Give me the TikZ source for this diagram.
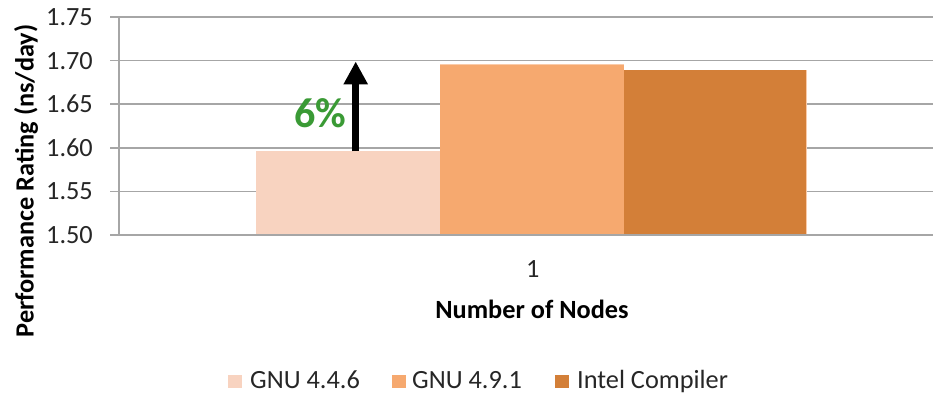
\documentclass[tikz,border=0pt]{standalone}
\usepackage{fontspec}
\setmainfont{Carlito}
\usetikzlibrary{arrows.meta}
\definecolor{gridgray}{HTML}{A6A6A6}
\definecolor{gnuold}{HTML}{F8D3C0}
\definecolor{gnunew}{HTML}{F6A96F}
\definecolor{intelc}{HTML}{D37F38}
\definecolor{gaingreen}{HTML}{3A9A35}
\definecolor{textgray}{HTML}{262626}
\tikzset{
  gridline/.style={draw=gridgray, line width=1.5pt},
  chartfont/.style={font=\fontsize{26.3}{28}\selectfont},
  ticklabel/.style={chartfont, text=textgray, anchor=east, inner sep=0pt},
  axistitle/.style={font=\fontsize{26.3}{28}\selectfont\bfseries, text=black, inner sep=0pt, anchor=base},
  legtext/.style={chartfont, text=textgray, anchor=base west, inner sep=0pt},
  legkey/.style={minimum width=14pt, minimum height=12.5pt, inner sep=0pt, anchor=west},
}
\begin{document}
\begin{tikzpicture}[x=1pt, y=-1pt]
\useasboundingbox (0,0) rectangle (933,395);
% horizontal grid lines and y ticks, 1.50 .. 1.75
\foreach \v [count=\i from 0] in {1.50,1.55,1.60,1.65,1.70,1.75} {
  \pgfmathsetmacro{\yy}{235-43.6*\i}
  \draw[gridline] (110,\yy) -- (933,\yy);
  \node[ticklabel] (tick\i) at (93,\yy) {\v};
}
% value axis
\draw[gridline] (119,17.0) -- (119,235);
% bars (1.5 at y=235, 0.05 per 43.6)
\fill[gnuold] (256,151.3) rectangle (440,234.2);
\fill[gnunew] (440,64.0) rectangle (624,234.2);
\fill[intelc] (624,70.0) rectangle (807,234.2);
\draw[gnunew!60!white, line width=0.8pt] (440.4,64.4) -- (623.6,64.4);
\draw[gnunew!60!white, line width=0.8pt] (806.6,70.4) -- (806.6,234);
\draw[gridline] (119,235) -- (933,235);
% gain arrow from the GNU 4.4.6 bar up to the 1.70 level
\coordinate (gainfrom) at (355.7,151.3);
\coordinate (gainto) at (355.7,61.5);
\draw[line width=7pt, -{Triangle[width=23pt,length=23pt]}] (gainfrom) -- (gainto);
\node[font=\fontsize{42}{44}\selectfont\bfseries, text=gaingreen, inner sep=0pt] (gain) at (320,113) {6\%};
% category label and axis titles
\node[chartfont, text=textgray, inner sep=0pt, anchor=base] (cat) at (532.7,277.3) {1};
\node[axistitle] (xtitle) at (532,318.3) {Number of Nodes};
\node[axistitle, rotate=90] (ytitle) at (33.5,181) {Performance Rating (ns/day)};
% legend
\node[legkey, fill=gnuold] (k1) at (228,381.5) {};
\node[legtext] (l1) at (250,388.5) {GNU 4.4.6};
\node[legkey, fill=gnunew] (k2) at (392,381.5) {};
\node[legtext] (l2) at (412,388.5) {GNU 4.9.1};
\node[legkey, fill=intelc] (k3) at (555,381.5) {};
\node[legtext] (l3) at (577,388.5) {Intel Compiler};
\end{tikzpicture}
\end{document}
